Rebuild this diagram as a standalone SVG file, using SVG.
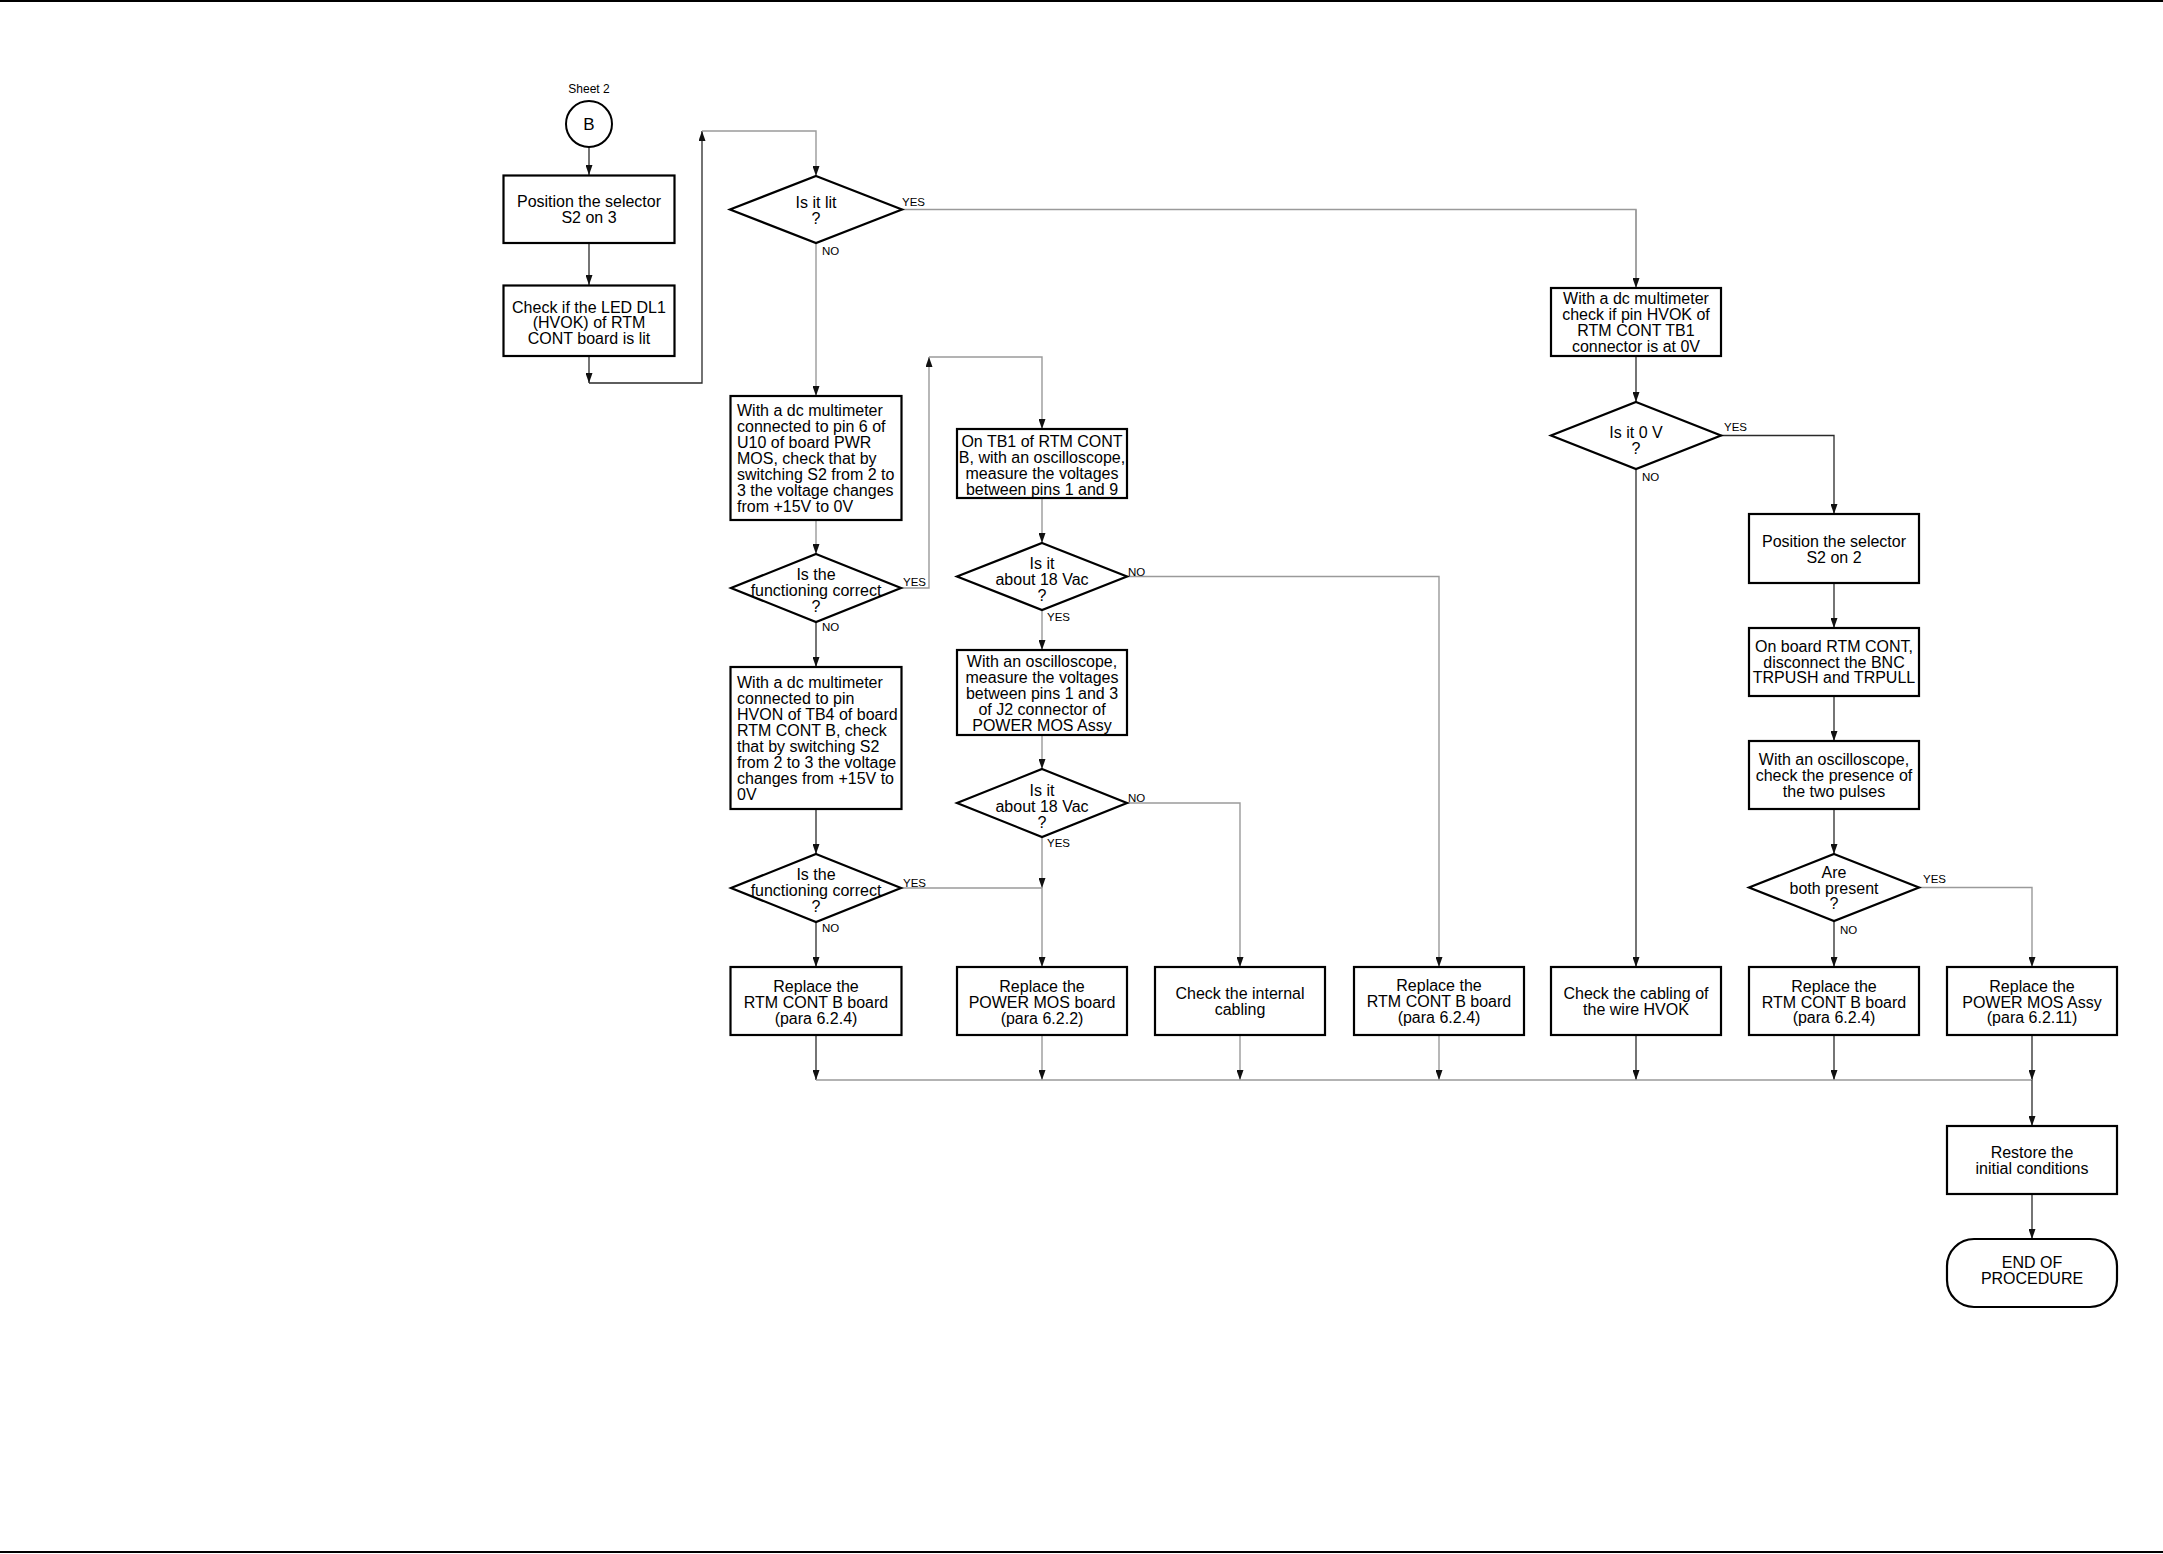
<svg xmlns="http://www.w3.org/2000/svg" width="2163" height="1554" viewBox="0 0 2163 1554">
<defs>
<style>
.box{fill:#fff;stroke:#000;stroke-width:2.2}
.t{font-family:"Liberation Sans",Arial,sans-serif;font-size:16px;fill:#000;text-anchor:middle}
.tl{font-family:"Liberation Sans",Arial,sans-serif;font-size:16px;fill:#000;text-anchor:start}
.lb{font-family:"Liberation Sans",Arial,sans-serif;font-size:11.5px;fill:#000}
.dk{fill:none;stroke:#2a2a2a;stroke-width:1.3}
.lt{fill:none;stroke:#9a9a9a;stroke-width:1.4}
.ar{marker-end:url(#ah)}
</style>
<marker id="ah" markerUnits="userSpaceOnUse" markerWidth="10" markerHeight="7" refX="10" refY="3.5" orient="auto">
<path d="M0,0 L10,3.5 L0,7 z" fill="#111"/>
</marker>
</defs>
<rect x="0" y="0" width="2163" height="1554" fill="#fff"/>
<line x1="0" y1="1" x2="2163" y2="1" stroke="#000" stroke-width="2"/>
<line x1="0" y1="1552" x2="2163" y2="1552" stroke="#000" stroke-width="2"/>

<g id="connectors">
<path class="dk ar" d="M589,147 V175"/>
<path class="dk ar" d="M589,243 V285"/>
<path class="dk ar" d="M589,356 V383"/>
<path class="dk ar" d="M589,383 H702 V131"/>
<path class="lt ar" d="M702,131 H816 V176"/>
<path class="lt" d="M902,209.5 H1636 V288"/>
<path class="lt ar" d="M1636,209.5 V288"/>
<path class="lt ar" d="M816,243 V396"/>
<path class="lt ar" d="M816,520 V554"/>
<path class="dk ar" d="M816,622 V667"/>
<path class="lt ar" d="M901,588 H929 V357"/>
<path class="lt ar" d="M929,357 H1042 V429"/>
<path class="lt ar" d="M1042,498 V543"/>
<path class="lt ar" d="M1042,610 V650"/>
<path class="lt ar" d="M1042,735 V769"/>
<path class="lt ar" d="M1042,837 V888"/>
<path class="lt" d="M901,888 H1042"/>
<path class="lt ar" d="M1042,888 V967"/>
<path class="dk ar" d="M816,809 V854"/>
<path class="dk ar" d="M816,922 V967"/>
<path class="lt ar" d="M1127,576.5 H1439 V967"/>
<path class="lt ar" d="M1127,803 H1240 V967"/>
<path class="dk ar" d="M1636,356 V402"/>
<path class="dk ar" d="M1636,469 V967"/>
<path class="dk ar" d="M1721,435.5 H1834 V514"/>
<path class="dk ar" d="M1834,583 V628"/>
<path class="dk ar" d="M1834,696 V741"/>
<path class="dk ar" d="M1834,809 V854"/>
<path class="dk ar" d="M1834,921 V967"/>
<path class="lt ar" d="M1919,887.5 H2032 V967"/>
<path class="dk ar" d="M816,1035 V1080"/>
<path class="lt ar" d="M1042,1035 V1080"/>
<path class="lt ar" d="M1240,1035 V1080"/>
<path class="lt ar" d="M1439,1035 V1080"/>
<path class="dk ar" d="M1636,1035 V1080"/>
<path class="dk ar" d="M1834,1035 V1080"/>
<path class="dk ar" d="M2032,1035 V1080"/>
<path class="lt" d="M816,1080 H2032"/>
<path class="dk ar" d="M2032,1080 V1126"/>
<path class="dk ar" d="M2032,1194 V1239"/>
<text class="lb" x="902" y="206">YES</text>
<text class="lb" x="822" y="255">NO</text>
<text class="lb" x="903" y="586">YES</text>
<text class="lb" x="822" y="631">NO</text>
<text class="lb" x="903" y="887">YES</text>
<text class="lb" x="822" y="932">NO</text>
<text class="lb" x="1128" y="576">NO</text>
<text class="lb" x="1047" y="621">YES</text>
<text class="lb" x="1128" y="802">NO</text>
<text class="lb" x="1047" y="847">YES</text>
<text class="lb" x="1724" y="431">YES</text>
<text class="lb" x="1642" y="481">NO</text>
<text class="lb" x="1923" y="883">YES</text>
<text class="lb" x="1840" y="934">NO</text>
</g>

<g id="start">
<text class="t" x="589" y="93" style="font-size:12px">Sheet 2</text>
<circle cx="589" cy="124" r="23" fill="#fff" stroke="#000" stroke-width="2"/>
<text class="t" x="589" y="130" style="font-size:17px">B</text>
</g>

<g id="pos-s2-3">
<rect class="box" x="503.5" y="175.5" width="171" height="67.5"/>
<text class="t" x="589" y="207">Position the selector</text>
<text class="t" x="589" y="223">S2 on 3</text>
</g>

<g id="check-led">
<rect class="box" x="503.5" y="285.5" width="171" height="70.5"/>
<text class="t" x="589" y="313">Check if the LED DL1</text>
<text class="t" x="589" y="328">(HVOK) of RTM</text>
<text class="t" x="589" y="344">CONT board is lit</text>
</g>

<g id="is-lit">
<polygon class="box" points="816,176 902,209.5 816,243 730,209.5"/>
<text class="t" x="816" y="207.5">Is it lit</text>
<text class="t" x="816" y="223.5">?</text>
</g>

<g id="pin6">
<rect class="box" x="730.5" y="396" width="171" height="124"/>
<text class="tl" x="737" y="416">With a dc multimeter</text>
<text class="tl" x="737" y="432">connected to pin 6 of</text>
<text class="tl" x="737" y="448">U10 of board PWR</text>
<text class="tl" x="737" y="464">MOS, check that by</text>
<text class="tl" x="737" y="480">switching S2 from 2 to</text>
<text class="tl" x="737" y="496">3 the voltage changes</text>
<text class="tl" x="737" y="512">from +15V to 0V</text>
</g>

<g id="func1">
<polygon class="box" points="816,554 901,588 816,622 731,588"/>
<text class="t" x="816" y="580">Is the</text>
<text class="t" x="816" y="596">functioning correct</text>
<text class="t" x="816" y="612">?</text>
</g>

<g id="hvon">
<rect class="box" x="730.5" y="667" width="171" height="142"/>
<text class="tl" x="737" y="688">With a dc multimeter</text>
<text class="tl" x="737" y="704">connected to pin</text>
<text class="tl" x="737" y="720">HVON of TB4 of board</text>
<text class="tl" x="737" y="736">RTM CONT B, check</text>
<text class="tl" x="737" y="752">that by switching S2</text>
<text class="tl" x="737" y="768">from 2 to 3 the voltage</text>
<text class="tl" x="737" y="784">changes from +15V to</text>
<text class="tl" x="737" y="800">0V</text>
</g>

<g id="func2">
<polygon class="box" points="816,854 901,888 816,922 731,888"/>
<text class="t" x="816" y="880">Is the</text>
<text class="t" x="816" y="896">functioning correct</text>
<text class="t" x="816" y="912">?</text>
</g>

<g id="tb1">
<rect class="box" x="957" y="429" width="170" height="69"/>
<text class="t" x="1042" y="447">On TB1 of RTM CONT</text>
<text class="t" x="1042" y="463">B, with an oscilloscope,</text>
<text class="t" x="1042" y="479">measure the voltages</text>
<text class="t" x="1042" y="495">between pins 1 and 9</text>
</g>

<g id="vac1">
<polygon class="box" points="1042,543 1127,576.5 1042,610 957,576.5"/>
<text class="t" x="1042" y="569">Is it</text>
<text class="t" x="1042" y="585">about 18 Vac</text>
<text class="t" x="1042" y="601">?</text>
</g>

<g id="osc-j2">
<rect class="box" x="957" y="650" width="170" height="85"/>
<text class="t" x="1042" y="667">With an oscilloscope,</text>
<text class="t" x="1042" y="683">measure the voltages</text>
<text class="t" x="1042" y="699">between pins 1 and 3</text>
<text class="t" x="1042" y="715">of J2 connector  of</text>
<text class="t" x="1042" y="731">POWER MOS Assy</text>
</g>

<g id="vac2">
<polygon class="box" points="1042,769 1127,803 1042,837 957,803"/>
<text class="t" x="1042" y="796">Is it</text>
<text class="t" x="1042" y="812">about 18 Vac</text>
<text class="t" x="1042" y="828">?</text>
</g>

<g id="r1">
<rect class="box" x="730.5" y="967" width="171" height="68"/>
<text class="t" x="816" y="992">Replace the</text>
<text class="t" x="816" y="1008">RTM CONT B board</text>
<text class="t" x="816" y="1024">(para 6.2.4)</text>
</g>

<g id="r2">
<rect class="box" x="957" y="967" width="170" height="68"/>
<text class="t" x="1042" y="992">Replace the</text>
<text class="t" x="1042" y="1008">POWER MOS board</text>
<text class="t" x="1042" y="1024">(para 6.2.2)</text>
</g>

<g id="r3">
<rect class="box" x="1155" y="967" width="170" height="68"/>
<text class="t" x="1240" y="999">Check the internal</text>
<text class="t" x="1240" y="1015">cabling</text>
</g>

<g id="r4">
<rect class="box" x="1354" y="967" width="170" height="68"/>
<text class="t" x="1439" y="991">Replace the</text>
<text class="t" x="1439" y="1007">RTM CONT B board</text>
<text class="t" x="1439" y="1023">(para 6.2.4)</text>
</g>

<g id="hvok-check">
<rect class="box" x="1551" y="288" width="170" height="68"/>
<text class="t" x="1636" y="304">With a dc multimeter</text>
<text class="t" x="1636" y="320">check if pin HVOK of</text>
<text class="t" x="1636" y="336">RTM CONT TB1</text>
<text class="t" x="1636" y="352">connector is at 0V</text>
</g>

<g id="is-0v">
<polygon class="box" points="1636,402 1721,435.5 1636,469 1551,435.5"/>
<text class="t" x="1636" y="437.5">Is it 0 V</text>
<text class="t" x="1636" y="454">?</text>
</g>

<g id="r5">
<rect class="box" x="1551" y="967" width="170" height="68"/>
<text class="t" x="1636" y="999">Check the cabling of</text>
<text class="t" x="1636" y="1015">the wire HVOK</text>
</g>

<g id="pos-s2-2">
<rect class="box" x="1749" y="514" width="170" height="69"/>
<text class="t" x="1834" y="547">Position the selector</text>
<text class="t" x="1834" y="563">S2 on 2</text>
</g>

<g id="bnc">
<rect class="box" x="1749" y="628" width="170" height="68"/>
<text class="t" x="1834" y="652">On board RTM CONT,</text>
<text class="t" x="1834" y="668">disconnect the BNC</text>
<text class="t" x="1834" y="683">TRPUSH and TRPULL</text>
</g>

<g id="pulses">
<rect class="box" x="1749" y="741" width="170" height="68"/>
<text class="t" x="1834" y="765">With an oscilloscope,</text>
<text class="t" x="1834" y="781">check the presence of</text>
<text class="t" x="1834" y="797">the two pulses</text>
</g>

<g id="both">
<polygon class="box" points="1834,854 1919,887.5 1834,921 1749,887.5"/>
<text class="t" x="1834" y="878">Are</text>
<text class="t" x="1834" y="894">both present</text>
<text class="t" x="1834" y="909">?</text>
</g>

<g id="r6">
<rect class="box" x="1749" y="967" width="170" height="68"/>
<text class="t" x="1834" y="992">Replace the</text>
<text class="t" x="1834" y="1008">RTM CONT B board</text>
<text class="t" x="1834" y="1023">(para 6.2.4)</text>
</g>

<g id="r7">
<rect class="box" x="1947" y="967" width="170" height="68"/>
<text class="t" x="2032" y="992">Replace the</text>
<text class="t" x="2032" y="1008">POWER MOS Assy</text>
<text class="t" x="2032" y="1023">(para 6.2.11)</text>
</g>

<g id="restore">
<rect class="box" x="1947" y="1126" width="170" height="68"/>
<text class="t" x="2032" y="1158">Restore the</text>
<text class="t" x="2032" y="1174">initial conditions</text>
</g>

<g id="end">
<rect class="box" x="1947" y="1239" width="170" height="68" rx="27" ry="27"/>
<text class="t" x="2032" y="1268">END OF</text>
<text class="t" x="2032" y="1284">PROCEDURE</text>
</g>
</svg>
